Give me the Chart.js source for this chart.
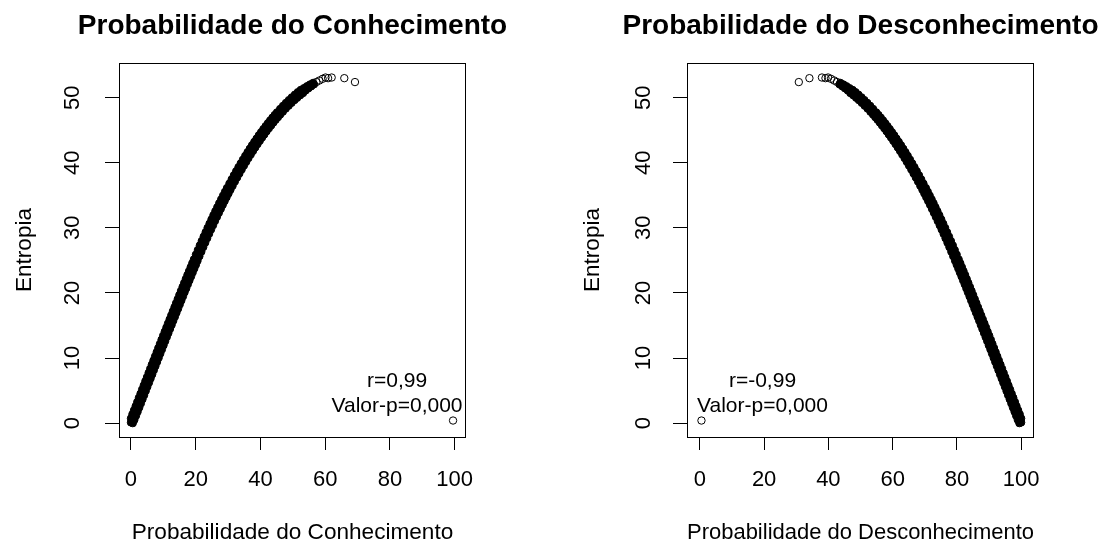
<!DOCTYPE html>
<html>
<head>
<meta charset="utf-8">
<script src="https://cdn.jsdelivr.net/npm/chart.js@4.4.1/dist/chart.umd.min.js"></script>
<style>
  html, body { margin: 0; padding: 0; background: #fff; }
  #wrap { position: relative; width: 1102px; height: 548px; overflow: hidden; }
  .panel { position: absolute; top: 0; width: 551px; height: 548px; }
</style>
</head>
<body>
<div id="wrap">
  <div class="panel" style="left:0"><canvas id="painelConhecimento" width="551" height="548"></canvas></div>
  <div class="panel" style="left:551px"><canvas id="painelDesconhecimento" width="551" height="548"></canvas></div>
</div>
<script>
// Axis ticks
const ticksX = [0, 20, 40, 60, 80, 100];
const ticksY = [0, 10, 20, 30, 40, 50];

// Dense core of the cloud: probability of knowledge (%) ...
const conhecimentoNucleo = [
  0.0, 0.0, 0.45, 0.95, 1.45, 1.95, 2.45, 2.95, 3.45, 3.95, 4.45, 4.95, 5.45, 5.95, 6.45, 6.95, 7.45, 7.95, 8.45, 8.95,
  9.45, 9.95, 10.45, 10.95, 11.45, 11.95, 12.45, 12.95, 13.45, 13.95, 14.45, 14.95, 15.45, 15.95, 16.45, 16.95, 17.45, 17.95,
  18.45, 18.95, 19.45,
  0.55, 1.05, 1.55, 2.05, 2.55, 3.05, 3.55, 4.05, 4.55, 5.05, 5.55, 6.05, 6.55, 7.05, 7.55, 8.05, 8.55, 9.05, 9.55, 10.05,
  10.55, 11.05, 11.55, 12.05, 12.55, 13.05, 13.55, 14.05, 14.55, 15.05, 15.55, 16.05, 16.55, 17.05, 17.55, 18.05, 18.55, 19.05,
  19.55, 20.05, 20.55,
  20.07, 20.67, 21.27, 21.87, 22.47, 23.07, 23.67, 24.27, 24.87, 25.47, 26.07, 26.67, 27.27, 27.87, 28.47, 29.07, 29.67,
  21.13, 21.73, 22.33, 22.93, 23.53, 24.13, 24.73, 25.33, 25.93, 26.53, 27.13, 27.73, 28.33, 28.93, 29.53, 30.13, 30.73,
  30.41, 31.11, 31.81, 32.51, 33.21, 33.91, 34.61, 35.31, 36.01, 36.71, 37.41, 38.11, 38.81, 39.51, 40.21, 40.91,
  41.61, 42.31, 43.01, 43.71, 44.41, 45.11,
  31.39, 32.09, 32.79, 33.49, 34.19, 34.89, 35.59, 36.29, 36.99, 37.69, 38.39, 39.09, 39.79, 40.49, 41.19, 41.89,
  42.59, 43.29, 43.99, 44.69, 45.39, 46.09,
  46.09, 46.99, 47.89, 48.79, 49.69, 50.65, 51.55, 52.45, 53.45, 54.38, 55.32, 56.27,
  46.91, 47.81, 48.71, 49.61, 50.51, 51.35, 52.25, 53.15, 53.95, 54.82, 55.68, 56.53
];
// ... and its entropy
const entropiaNucleo = [
  0.11, 0.73, 1.36, 1.98, 2.61, 3.25, 3.89, 4.52, 5.16, 5.8, 6.44, 7.07, 7.71, 8.35, 8.99, 9.62, 10.26, 10.9, 11.54, 12.17,
  12.81, 13.44, 14.06, 14.69, 15.31, 15.94, 16.56, 17.19, 17.81, 18.44, 19.06, 19.69, 20.31, 20.92, 21.54, 22.15, 22.76, 23.36,
  23.96, 24.56, 25.16,
  0.0, 0.51, 1.14, 1.76, 2.39, 3.03, 3.67, 4.3, 4.94, 5.58, 6.22, 6.85, 7.49, 8.13, 8.77, 9.4, 10.04, 10.68, 11.32, 11.95,
  12.59, 13.22, 13.84, 14.47, 15.09, 15.72, 16.34, 16.97, 17.59, 18.22, 18.84, 19.47, 20.09, 20.7, 21.32, 21.93, 22.54, 23.14,
  23.74, 24.34, 24.94,
  25.89, 26.59, 27.3, 27.98, 28.66, 29.33, 30.0, 30.64, 31.29, 31.93, 32.55, 33.16, 33.78, 34.37, 34.96, 35.54, 36.12,
  25.64, 26.34, 27.05, 27.73, 28.41, 29.08, 29.75, 30.39, 31.04, 31.68, 32.3, 32.91, 33.53, 34.12, 34.71, 35.29, 35.87,
  36.8, 37.45, 38.08, 38.7, 39.31, 39.9, 40.48, 41.06, 41.61, 42.15, 42.69, 43.21, 43.71, 44.22, 44.69, 45.17,
  45.63, 46.07, 46.51, 46.94, 47.34, 47.74,
  36.47, 37.12, 37.75, 38.37, 38.98, 39.57, 40.15, 40.73, 41.28, 41.82, 42.36, 42.88, 43.38, 43.89, 44.36, 44.84,
  45.3, 45.74, 46.18, 46.61, 47.01, 47.41,
  48.27, 48.75, 49.2, 49.63, 50.05, 50.47, 50.85, 51.19, 51.47, 51.76, 52.03, 52.27,
  47.85, 48.33, 48.78, 49.21, 49.63, 49.99, 50.37, 50.71, 51.11, 51.44, 51.75, 52.05
];

// Sparse points at the top of the curve and the isolated case
const conhecimentoCauda = [57.3, 58.2, 59.2, 60.1, 60.9, 62.0, 65.9, 69.2, 99.5];
const entropiaCauda     = [52.41, 52.64, 52.9, 53.1, 53.0, 53.1, 53.0, 52.4, 0.4];

// Correlation notes
const notaConhecimento    = ['r=0,99', 'Valor-p=0,000'];
const notaDesconhecimento = ['r=-0,99', 'Valor-p=0,000'];

const FONTE = "'Liberation Sans', Arial, sans-serif";
Chart.defaults.font.family = FONTE;
Chart.defaults.color = '#000';

// Box around the plot region, main title and the correlation note
const molduraR = {
  id: 'molduraR',
  afterDraw(chart, args, o) {
    const { ctx, chartArea: a, scales } = chart;
    ctx.save();
    ctx.strokeStyle = '#000';
    ctx.lineWidth = 1;
    ctx.strokeRect(Math.round(a.left) + 0.5, Math.round(a.top) + 0.5,
                   Math.round(a.right - a.left) - 1, Math.round(a.bottom - a.top));
    ctx.fillStyle = '#000';
    ctx.textAlign = 'center';
    ctx.textBaseline = 'alphabetic';
    ctx.font = 'bold 28px ' + FONTE;
    ctx.fillText(o.titulo, (a.left + a.right) / 2, 34);
    ctx.font = '21px ' + FONTE;
    const nx = scales.x.getPixelForValue(o.notaX);
    const ny = scales.y.getPixelForValue(o.notaY);
    ctx.fillText(o.nota[0], nx, ny - 12.2);
    ctx.fillText(o.nota[1], nx, ny + 12.2);
    ctx.restore();
  }
};

function montarPainel(id, cfg) {
  const mapa = cfg.mapaX;
  const nucleo = conhecimentoNucleo.map((c, i) => ({ x: mapa(c), y: entropiaNucleo[i] }));
  const cauda = conhecimentoCauda.map((c, i) => ({ x: mapa(c), y: entropiaCauda[i] }));
  const pontos = { pointRadius: 3.7, pointBorderWidth: 1, pointBorderColor: '#000', pointHoverRadius: 3.7 };
  return new Chart(document.getElementById(id), {
    type: 'scatter',
    data: {
      datasets: [
        Object.assign({ data: cauda, pointBackgroundColor: 'rgba(0,0,0,0)' }, pontos),
        Object.assign({ data: nucleo, pointBackgroundColor: '#000' }, pontos)
      ]
    },
    options: {
      responsive: false,
      devicePixelRatio: 1,
      animation: false,
      events: [],
      layout: { padding: { left: cfg.padEsq, right: cfg.padDir, top: 63, bottom: 0 } },
      plugins: {
        legend: { display: false },
        tooltip: { enabled: false },
        title: { display: false },
        molduraR: { titulo: cfg.titulo, nota: cfg.nota, notaX: cfg.notaX, notaY: 3.66 }
      },
      scales: {
        x: {
          type: 'linear',
          min: cfg.xMin, max: cfg.xMax,
          afterBuildTicks: s => { s.ticks = ticksX.map(v => ({ value: v })); },
          afterFit: s => { s.height = 111; },
          grid: { drawOnChartArea: false, drawTicks: true, tickLength: 13, color: '#000', lineWidth: 1 },
          border: { display: false },
          ticks: { font: { size: 22 }, color: '#000', padding: 17, maxRotation: 0, autoSkip: false },
          title: { display: true, text: cfg.tituloX, font: { size: 22.6 }, color: '#000', padding: { top: 0, bottom: 1.3 } }
        },
        y: {
          type: 'linear',
          min: -2.13, max: 55.33,
          afterBuildTicks: s => { s.ticks = ticksY.map(v => ({ value: v })); },
          afterFit: s => { s.width = 119; },
          grid: { drawOnChartArea: false, drawTicks: true, tickLength: 14, color: '#000', lineWidth: 1 },
          border: { display: false },
          ticks: { font: { size: 22 }, color: '#000', padding: cfg.padTickY, minRotation: 90, maxRotation: 90, crossAlign: 'center', autoSkip: false },
          title: { display: true, text: 'Entropia', font: { size: 22.6 }, color: '#000', padding: { top: 11.2, bottom: 0 } }
        }
      }
    },
    plugins: [molduraR]
  });
}

montarPainel('painelConhecimento', {
  mapaX: c => c,
  titulo: 'Probabilidade do Conhecimento',
  tituloX: 'Probabilidade do Conhecimento',
  nota: notaConhecimento, notaX: 82.2,
  xMin: -3.7, xMax: 103.5,
  padEsq: 0, padDir: 85, padTickY: 20
});

montarPainel('painelDesconhecimento', {
  mapaX: c => 100 - c,
  titulo: 'Probabilidade do Desconhecimento',
  tituloX: 'Probabilidade do Desconhecimento',
  nota: notaDesconhecimento, notaX: 19.5,
  xMin: -4, xMax: 104,
  padEsq: 17, padDir: 68, padTickY: 17
});
</script>
</body>
</html>
